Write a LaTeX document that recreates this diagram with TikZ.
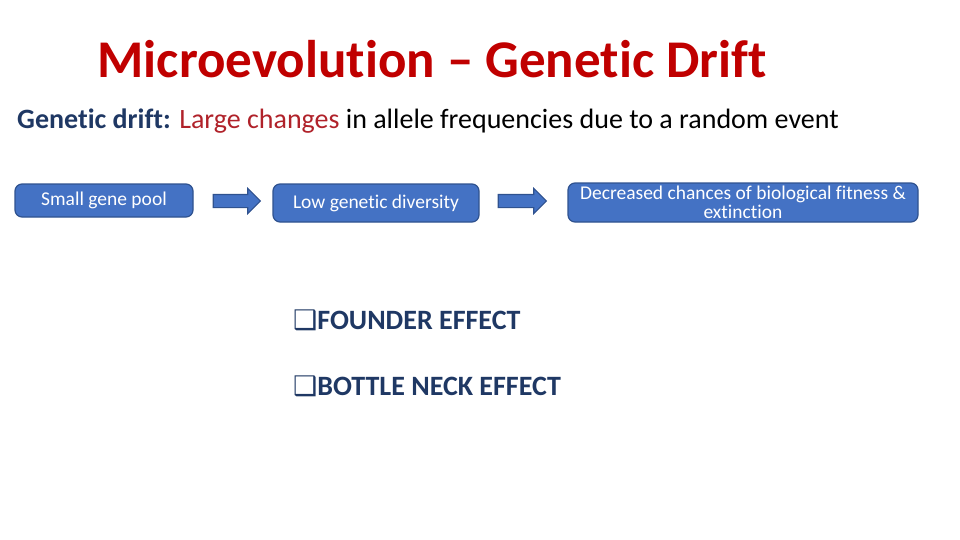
\documentclass[tikz,border=0pt]{standalone}
\usepackage{fontspec}
\setmainfont{Carlito}[Ligatures={NoCommon}]
\newfontfamily\symfont{DejaVu Sans}
\usetikzlibrary{shapes.arrows,positioning}
\definecolor{boxblue}{HTML}{4472C4}
\definecolor{boxedge}{HTML}{2F528F}
\definecolor{titlered}{HTML}{C00000}
\definecolor{navy}{HTML}{1F3864}
\definecolor{darkred}{HTML}{B0222A}
\tikzset{
  flowbox/.style={draw=boxedge, line width=1.2pt, fill=boxblue, rounded corners=7pt,
    text=white, font=\fontsize{19.5}{20}\selectfont, align=center, inner sep=0pt},
  blockarrow/.style={single arrow, draw=boxedge, line width=1.1pt, fill=boxblue,
    minimum height=47pt, minimum width=24pt, single arrow head extend=6pt,
    single arrow tip angle=90, inner xsep=0pt, inner ysep=6pt, anchor=center},
  bullet/.style={anchor=west, text=navy, font=\fontsize{28}{28}\selectfont\bfseries, inner sep=0pt}
}
\begin{document}
\begin{tikzpicture}[x=1pt,y=-1pt]
\useasboundingbox (0,0) rectangle (960,540);
\node[text=titlered, font=\fontsize{53}{53}\selectfont\bfseries, inner sep=0pt] (title) at (432,59) {Microevolution – Genetic Drift};
\node[anchor=west, font=\fontsize{28}{28}\selectfont, inner sep=0pt] (def) at (17,121)
  {\textcolor{navy}{\bfseries Genetic drift:} \textcolor{darkred}{Large changes} in allele frequencies due to a random event};
\node[flowbox, minimum width=178pt, minimum height=33pt] (b1) at (104,200.5) {Small gene pool};
\node[flowbox, minimum width=206pt, minimum height=38pt] (b2) at (376,203) {Low genetic diversity};
\node[flowbox, minimum width=350pt, minimum height=39pt] (b3) at (743,202.5) {Decreased chances of biological fitness \&\\[-1pt]extinction};
\node[blockarrow] (a1) at (233.5,201) {};
\node[blockarrow, minimum height=48pt] (a2) at (519,201) {};
\node[bullet] (f1) at (293,320) {{\symfont\fontsize{27}{27}\selectfont ❑}FOUNDER EFFECT};
\node[bullet] (f2) at (293,386) {{\symfont\fontsize{27}{27}\selectfont ❑}BOTTLE NECK EFFECT};
\end{tikzpicture}
\end{document}
